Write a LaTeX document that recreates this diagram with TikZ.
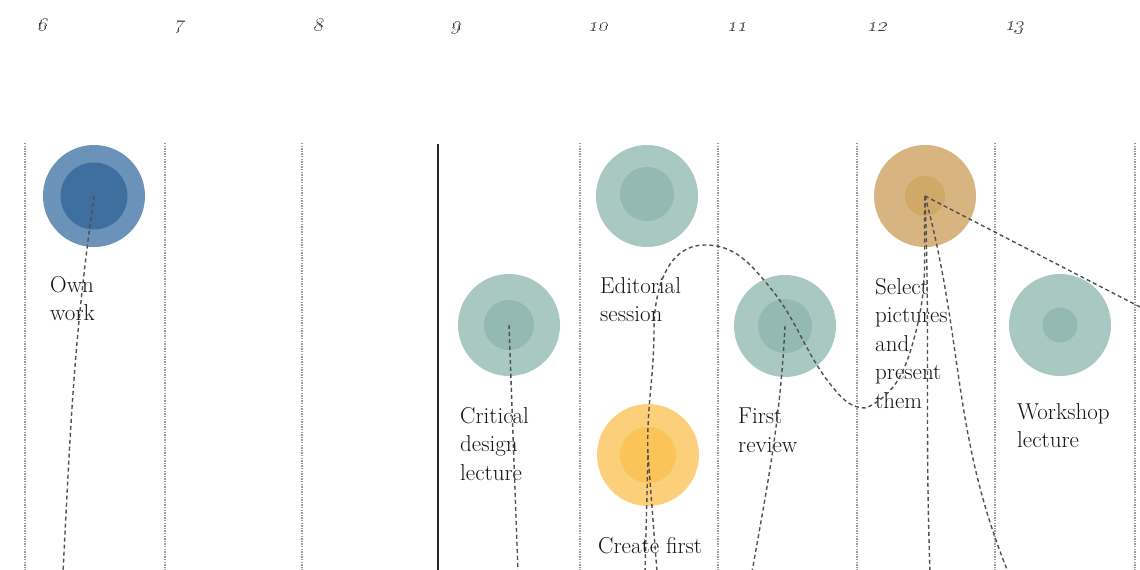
\documentclass[tikz,border=0pt]{standalone}
\usepackage{fix-cm}
\definecolor{blueO}{HTML}{6B93B9}
\definecolor{blueI}{HTML}{3F6F9E}
\definecolor{tealO}{HTML}{A9C8C2}
\definecolor{tealI}{HTML}{94B8B2}
\definecolor{yelO}{HTML}{FCD07A}
\definecolor{yelI}{HTML}{FBC459}
\definecolor{tanO}{HTML}{D8B480}
\definecolor{tanI}{HTML}{D0A868}
\definecolor{dashgray}{HTML}{505050}
\definecolor{dotgray}{HTML}{9A9A9A}
\tikzset{
  outerc/.style={circle, minimum size=102pt, inner sep=0pt, draw=none},
  innerc/.style={circle, inner sep=0pt, draw=none},
  lbl/.style={anchor=north west, inner sep=0pt, align=left,
    font=\fontsize{23}{28.5}\selectfont, text=black!92},
  colnum/.style={inner sep=0pt, font=\fontsize{20}{20}\selectfont, text=black!80,
    xslant=0.22, transform shape},
  gridline/.style={dotgray, line width=1.3pt, dash pattern=on 1.3pt off 1.3pt},
  sepline/.style={black!85, line width=2.4pt},
  conn/.style={dashgray, line width=1.4pt, dash pattern=on 4pt off 3pt},
}
\begin{document}
\begin{tikzpicture}[x=1pt,y=-1pt]
\useasboundingbox (0,0) rectangle (1140,570);
\begin{scope}
\clip (0,0) rectangle (1140,570);
% week columns
\foreach \gx in {25,165,302,580,718,857,995,1135}
  \draw[gridline] (\gx,143) -- (\gx,572);
\draw[sepline] (438,144) -- (438,572);
% week numbers
\node[colnum] (n6) at (44,25) {\oldstylenums{6}};
\node[colnum] (n7) at (180,27) {\oldstylenums{7}};
\node[colnum] (n8) at (320,25) {\oldstylenums{8}};
\node[colnum] (n9) at (457,28) {\oldstylenums{9}};
\node[colnum] (n10) at (599,27) {\oldstylenums{10}};
\node[colnum] (n11) at (738,27) {\oldstylenums{11}};
\node[colnum] (n12) at (878,27) {\oldstylenums{12}};
\node[colnum] (n13) at (1015,28) {\oldstylenums{13}};
% circles
\node[outerc, fill=blueO] (ow) at (94,196) {};
\node[innerc, fill=blueI, minimum size=67pt] (owi) at (ow.center) {};
\node[outerc, fill=tealO] (cd) at (509,325) {};
\node[innerc, fill=tealI, minimum size=50pt] (cdi) at (cd.center) {};
\node[outerc, fill=tealO] (es) at (647,196) {};
\node[innerc, fill=tealI, minimum size=54pt] (esi) at (647,194) {};
\node[outerc, fill=yelO] (cf) at (648,455) {};
\node[innerc, fill=yelI, minimum size=56pt] (cfi) at (cf.center) {};
\node[outerc, fill=tealO] (fr) at (785,326) {};
\node[innerc, fill=tealI, minimum size=54pt] (fri) at (fr.center) {};
\node[outerc, fill=tanO] (sp) at (925,196) {};
\node[innerc, fill=tanI, minimum size=40pt] (spi) at (sp.center) {};
\node[outerc, fill=tealO] (wl) at (1060,325) {};
\node[innerc, fill=tealI, minimum size=35pt] (wli) at (wl.center) {};
% labels
\node[lbl] (owl) at (50,276) {Own\\work};
\node[lbl] (esl) at (600,277) {Editorial\\session};
\node[lbl] (cdl) at (460,407) {Critical\\design\\lecture};
\node[lbl] (frl) at (738,408) {First\\review};
\node[lbl] (spl) at (875,278) {Select\\pictures\\and\\present\\them};
\node[lbl] (wll) at (1017,403) {Workshop\\lecture};
\node[lbl] (cfl) at (598,537) {Create first};
% free ends
\coordinate (owb) at (63,572);
\coordinate (cdb) at (518,572);
\coordinate (cfb1) at (645,572);
\coordinate (cfb2) at (657,572);
\coordinate (frb) at (752,572);
\coordinate (spb1) at (930,572);
\coordinate (spb2) at (1008,572);
\coordinate (spr) at (1142,308);
% connectors
\draw[conn] (ow.center) to[out=-98,in=87] (owb);
\draw[conn] (cd.center) -- (cdb);
\draw[conn] (cf.center) -- (cfb2);
\draw[conn] (cfb1) -- (cf.center) to[out=92,in=-90] (654,330)
  to[out=90,in=180] (705,245) to[out=0,in=130] (768,285)
  to[out=-50,in=130] (835,390) to[out=-50,in=180] (866,408)
  to[out=25,in=-105] (915,335) to[out=75,in=-92] (sp.center);
\draw[conn] (fr.center) to[out=-93,in=80] (frb);
\draw[conn] (sp.center) to[out=-88,in=92] (spb1);
\draw[conn] (sp.center) to[out=-75,in=112] (spb2);
\draw[conn] (sp.center) -- (spr);
\end{scope}
\end{tikzpicture}
\end{document}
